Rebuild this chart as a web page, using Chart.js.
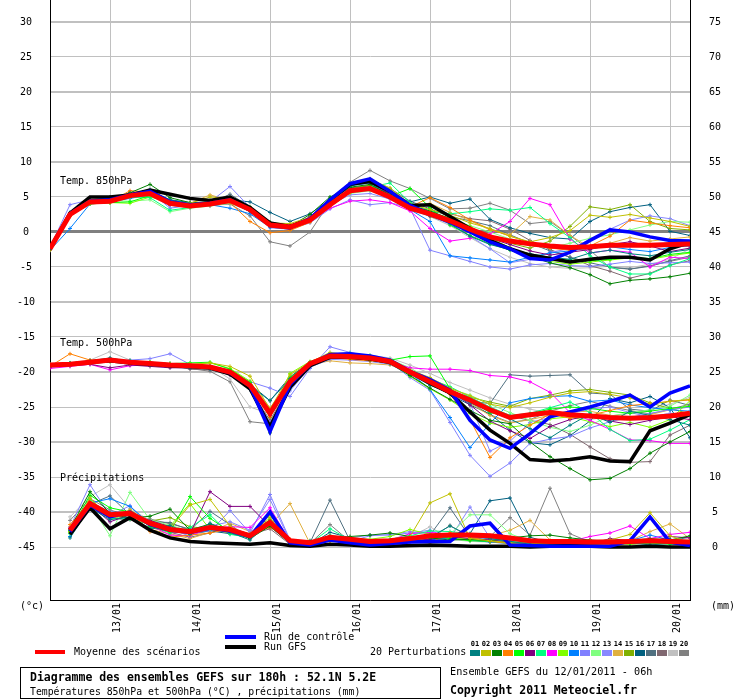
<!DOCTYPE html>
<html lang="fr">
  <head>
    <meta charset="UTF-8" />
    <title>Diagramme des ensembles GEFS</title>
    <script src="https://cdn.jsdelivr.net/npm/chart.js"></script>
    <style>
      body { margin: 0; background: #fff; }
      #wrap { width: 740px; height: 700px; }
    </style>
  </head>
  <body>
    <div id="wrap"><canvas id="gefs" width="740" height="700"></canvas></div>

    <script>
      // run du 12/01/2011 06h, pas de 6h (33 échéances)
      const dayLabels = ['13/01', '14/01', '15/01', '16/01', '17/01', '18/01', '19/01', '20/01'];
      const dayIndex = [3, 7, 11, 15, 19, 23, 27, 31];
      const leftTicks = [-45, -40, -35, -30, -25, -20, -15, -10, -5, 0, 5, 10, 15, 20, 25, 30];
      const rightTicks = [0, 5, 10, 15, 20, 25, 30, 35, 40, 45, 50, 55, 60, 65, 70, 75];

      const memberNames = ['01','02','03','04','05','06','07','08','09','10','11','12','13','14','15','16','17','18','19','20'];
      const memberColors = ['#008080','#c0c000','#008000','#ff8000','#00ff00','#800080','#00ff80','#ff00ff','#80ff00','#0080ff',
                            '#8080ff','#80ff80','#8888ff','#e0b040','#80b000','#006080','#507080','#806870','#c0c0c0','#808080'];

      // Température 850hPa (°C)
      const t850Mean = [-2.4, 2.5, 4.3, 4.4, 5.2, 5.5, 4.1, 3.7, 4.0, 4.5, 3.2, 1.0, 0.7, 1.7, 3.9, 5.9, 6.2, 5.0, 3.4, 2.6, 1.6, 0.4, -0.7, -1.3, -1.7, -2.0, -2.2, -2.1, -1.9, -1.9, -1.9, -1.8, -1.7];
      const t850Ctrl = [-2.4, 2.6, 4.4, 4.6, 5.3, 5.8, 4.3, 3.9, 4.1, 4.6, 3.1, 1.0, 0.6, 1.9, 4.6, 6.9, 7.6, 5.8, 3.8, 2.6, 1.4, 0.0, -1.4, -2.4, -3.8, -4.0, -2.9, -1.2, 0.3, 0.0, -0.7, -1.2, -1.3];
      const t850Gfs = [-2.4, 2.7, 5.0, 5.0, 5.3, 6.0, 5.4, 4.8, 4.5, 5.0, 3.5, 1.3, 0.8, 1.8, 4.5, 6.8, 7.2, 5.8, 3.8, 3.9, 2.2, 0.5, -1.2, -2.4, -3.3, -3.8, -4.3, -3.9, -3.6, -3.6, -4.0, -2.4, -1.5];
      const t850Members = [
        [-2.3, 2.8, 4.6, 4.9, 5.4, 5.9, 4.6, 4.0, 4.2, 4.8, 3.0, 0.8, 0.5, 1.9, 4.4, 6.6, 7.3, 5.6, 3.6, 2.4, 1.2, -0.6, -1.8, -2.5, -3.1, -3.6, -3.9, -3.0, -2.6, -3.1, -3.4, -2.9, -2.5],
        [-2.2, 2.4, 4.2, 4.5, 5.0, 5.3, 4.3, 4.1, 5.0, 4.8, 3.6, 1.3, 1.2, 2.1, 4.2, 6.9, 7.5, 6.3, 4.0, 3.2, 2.4, 1.3, 0.5, -0.6, -1.4, -0.8, 0.2, 2.4, 2.1, 2.5, 2.0, 1.5, 0.8],
        [-2.4, 2.6, 4.5, 4.6, 5.6, 6.8, 4.9, 4.2, 4.1, 4.6, 3.4, 1.4, 0.8, 2.5, 5.0, 6.4, 6.8, 5.3, 3.8, 3.0, 1.9, 0.3, -1.2, -2.4, -3.5, -4.4, -5.1, -6.1, -7.4, -6.9, -6.7, -6.4, -5.9],
        [-2.6, 2.2, 4.4, 4.3, 5.9, 5.7, 4.0, 3.6, 3.9, 4.2, 1.5, -0.1, 0.2, 1.4, 3.7, 5.6, 6.5, 5.3, 3.6, 4.9, 3.5, 1.7, 0.4, -0.6, -1.5, -2.3, -2.6, -2.0, -0.6, 1.7, 1.3, 0.9, 0.6],
        [-2.5, 2.3, 4.1, 4.2, 4.3, 5.2, 4.4, 4.1, 4.3, 4.5, 3.3, 1.1, 0.9, 1.6, 3.8, 5.8, 6.3, 5.1, 6.2, 3.5, 1.0, -0.5, -1.7, -2.6, -3.3, -3.8, -4.0, -4.1, -3.9, -3.6, -3.8, -3.2, -2.9],
        [-2.3, 2.7, 4.3, 4.6, 5.4, 5.6, 4.2, 3.8, 4.0, 4.4, 3.1, 0.9, 0.6, 2.2, 4.4, 6.8, 7.1, 5.4, 3.3, 2.3, 1.4, 0.6, -0.9, -1.8, -2.7, -3.3, -2.9, -2.5, -1.8, -1.4, -2.0, -2.8, -2.3],
        [-2.4, 2.6, 4.2, 4.4, 5.0, 4.9, 3.1, 3.5, 3.9, 4.3, 3.0, 0.9, 0.6, 1.8, 4.0, 5.9, 6.4, 7.0, 4.2, 3.0, 2.6, 2.9, 3.3, 3.1, 3.5, 1.2, -0.8, -3.4, -5.0, -6.0, -6.0, -4.8, -3.8],
        [-2.4, 2.5, 4.3, 4.5, 5.6, 5.4, 3.9, 3.6, 3.8, 4.4, 3.1, 1.0, 0.8, 1.6, 3.4, 4.4, 4.6, 4.2, 3.0, 0.5, -1.3, -0.9, -0.3, 1.5, 4.8, 3.9, -1.0, -3.0, -2.6, -2.9, -5.0, -3.6, -3.8],
        [-2.5, 2.4, 4.0, 4.2, 4.1, 5.0, 4.3, 3.9, 4.1, 4.6, 3.4, 1.2, 0.7, 1.5, 3.6, 5.7, 6.1, 5.0, 3.6, 2.8, 2.0, 0.8, -0.9, -2.2, -3.5, -4.2, -4.6, -4.3, -4.0, -3.7, -3.9, -3.4, -3.0],
        [-2.6, 0.5, 4.0, 4.3, 4.8, 5.3, 4.0, 3.6, 3.9, 3.4, 2.6, 0.7, 0.4, 1.9, 4.8, 6.6, 7.0, 5.2, 3.2, 1.5, -3.4, -3.7, -4.0, -4.3, -3.6, -3.0, -2.7, -2.3, -2.1, -2.5, -2.8, -2.2, -2.0],
        [-2.2, 3.9, 4.6, 4.8, 5.5, 5.8, 3.4, 3.8, 4.3, 6.5, 3.5, 0.6, 0.4, 1.3, 3.3, 4.6, 3.9, 4.2, 3.4, -2.6, -3.4, -4.2, -5.0, -5.3, -4.7, -4.5, -4.8, -4.9, -4.6, -4.2, -4.5, -4.4, -4.3],
        [-2.3, 2.7, 4.4, 4.5, 4.4, 4.6, 2.9, 3.4, 3.7, 4.1, 3.0, 1.2, 0.9, 1.8, 4.1, 5.5, 5.9, 4.9, 3.5, 2.7, 1.8, 0.9, 0.0, -1.0, -1.9, -2.3, -1.6, -0.9, -0.4, 0.3, 1.0, 1.5, 1.4],
        [-2.4, 2.5, 4.1, 4.4, 5.1, 5.7, 4.5, 4.0, 4.2, 4.7, 3.2, 0.9, 0.5, 1.7, 3.9, 5.3, 5.5, 4.7, 3.2, 2.3, 1.1, -0.6, -2.4, -4.4, -3.9, -2.9, -2.4, -1.1, 0.4, 1.7, 2.3, 1.9, 0.9],
        [-2.5, 2.6, 4.4, 4.5, 5.3, 5.5, 4.3, 4.1, 5.3, 4.5, 3.4, 1.0, 0.7, 1.6, 3.9, 6.0, 6.4, 5.2, 3.4, 4.1, 2.8, 1.6, 0.3, -0.4, 2.2, 1.7, -0.5, -2.2, -1.6, -0.8, -1.3, -1.0, -0.7],
        [-2.3, 2.5, 4.2, 4.3, 5.2, 5.6, 4.1, 3.8, 4.0, 4.4, 3.2, 1.1, 0.6, 1.7, 4.2, 6.2, 6.7, 5.2, 3.5, 2.2, 1.3, 0.2, -0.8, -1.6, -2.3, -1.3, 0.8, 3.6, 3.2, 3.9, 1.5, 0.5, 0.3],
        [-2.4, 2.6, 4.3, 5.0, 5.3, 5.8, 4.6, 4.2, 4.3, 4.6, 4.3, 2.8, 1.5, 2.6, 4.6, 6.3, 6.6, 5.5, 4.3, 5.0, 4.1, 4.7, 1.8, 0.6, -0.2, -0.8, -1.0, 1.5, 2.9, 3.5, 3.9, 0.1, -0.5],
        [-2.5, 2.4, 4.2, 4.4, 5.3, 6.1, 4.5, 3.9, 4.1, 5.4, 3.6, 1.3, 0.9, 2.0, 4.3, 6.5, 7.6, 6.2, 4.4, 3.3, 2.2, 1.6, 0.9, -0.4, -1.6, -2.7, -3.6, -4.4, -5.0, -5.3, -4.9, -4.1, -3.4],
        [-2.4, 2.3, 4.0, 4.2, 5.0, 5.2, 3.8, 3.5, 3.8, 4.3, 2.9, 0.8, 0.4, 1.5, 3.6, 5.6, 6.0, 5.1, 3.7, 2.9, 2.6, 1.9, 1.6, 0.4, -1.2, -2.5, -3.6, -4.8, -5.6, -6.6, -5.9, -4.7, -4.1],
        [-2.5, 2.4, 4.3, 4.4, 5.2, 5.6, 4.2, 3.9, 4.0, 4.5, 3.3, 1.0, 0.6, 1.6, 3.8, 5.7, 6.0, 4.8, 3.2, 2.2, 0.9, -0.8, -2.4, -3.6, -4.5, -5.0, -5.2, -5.1, -4.9, -5.1, -4.6, -3.9, -2.4],
        [-2.6, 2.3, 4.1, 4.3, 5.0, 5.3, 3.9, 3.6, 3.8, 4.0, 2.3, -1.4, -2.0, 0.0, 4.3, 7.1, 8.8, 7.3, 6.2, 4.8, 3.3, 3.4, 4.1, 3.1, 1.2, 1.5, -0.5, -2.6, -5.1, -5.3, -4.8, -4.2, -3.6]
      ];

      // Température 500hPa (°C)
      const t500Mean = [-19.0, -18.9, -18.6, -18.3, -18.6, -18.8, -19.0, -19.1, -19.3, -20.0, -21.9, -25.9, -21.4, -18.8, -17.7, -17.8, -18.0, -18.5, -20.0, -21.4, -22.8, -24.0, -25.4, -26.5, -26.1, -25.8, -26.1, -26.3, -26.5, -26.6, -26.5, -26.3, -25.9];
      const t500Ctrl = [-19.0, -18.9, -18.6, -18.3, -18.6, -18.8, -19.0, -19.1, -19.3, -20.1, -22.0, -28.5, -21.8, -18.9, -17.5, -17.4, -17.7, -18.3, -19.9, -21.1, -22.6, -26.9, -29.7, -30.9, -28.8, -26.4, -25.7, -25.0, -24.2, -23.3, -25.0, -23.0, -22.0];
      const t500Gfs = [-19.0, -18.9, -18.6, -18.4, -18.7, -18.9, -19.1, -19.2, -19.4, -20.3, -22.4, -27.8, -22.2, -19.1, -17.9, -17.9, -18.1, -18.6, -20.0, -21.6, -23.0, -25.7, -28.3, -30.2, -32.5, -32.7, -32.5, -32.1, -32.7, -32.8, -28.4, -27.3, -26.1];
      const t500Members = [
        [-19.1, -18.8, -18.4, -18.0, -18.5, -18.9, -19.2, -19.4, -19.6, -20.3, -22.0, -24.1, -21.0, -18.7, -17.9, -17.5, -17.8, -18.6, -20.2, -21.9, -23.0, -24.4, -25.6, -26.7, -28.1, -29.4, -27.6, -26.0, -27.2, -25.6, -26.2, -26.8, -27.6],
        [-19.0, -19.0, -18.7, -18.4, -18.8, -18.6, -18.8, -18.9, -18.7, -19.2, -20.6, -25.3, -20.4, -18.6, -17.2, -17.6, -18.1, -18.6, -19.7, -20.8, -22.3, -23.4, -24.6, -25.1, -24.4, -23.6, -23.0, -22.8, -23.2, -23.7, -24.6, -24.2, -23.9],
        [-18.9, -18.8, -18.5, -18.2, -18.7, -19.0, -19.1, -19.2, -19.4, -20.1, -22.2, -28.7, -22.0, -19.0, -17.8, -18.0, -18.3, -18.8, -20.5, -22.3, -23.9, -25.5, -26.9, -27.4, -30.0, -32.1, -33.8, -35.4, -35.2, -33.8, -31.6, -30.0, -28.5],
        [-19.2, -17.4, -18.3, -18.2, -18.6, -18.9, -19.0, -19.0, -19.3, -20.2, -22.0, -26.4, -21.6, -18.9, -17.9, -18.2, -18.4, -18.7, -20.3, -21.6, -23.2, -26.8, -32.2, -29.4, -27.6, -26.0, -26.6, -26.2, -25.5, -24.8, -24.5, -24.2, -24.0],
        [-19.0, -18.9, -18.6, -18.4, -18.4, -18.6, -18.8, -18.7, -18.6, -19.6, -21.5, -25.7, -20.8, -18.7, -17.6, -17.9, -18.0, -18.3, -17.8, -17.7, -22.4, -24.1, -25.8, -26.4, -26.0, -25.3, -25.0, -25.2, -25.6, -25.9, -25.6, -25.2, -24.9],
        [-19.3, -19.1, -18.9, -19.4, -19.0, -19.2, -19.4, -19.4, -19.5, -20.4, -22.1, -26.2, -21.6, -19.1, -17.7, -17.6, -17.9, -18.6, -20.2, -21.3, -22.6, -24.7, -27.0, -28.4, -29.5, -27.8, -26.8, -26.2, -27.0, -27.5, -26.9, -26.4, -26.8],
        [-18.9, -18.7, -18.5, -18.3, -18.5, -18.7, -18.9, -19.0, -19.1, -19.8, -21.5, -25.4, -21.2, -18.6, -17.4, -17.3, -17.7, -18.4, -19.9, -21.0, -22.1, -23.6, -25.0, -26.2, -25.9, -25.1, -24.3, -25.8, -28.2, -29.8, -29.6, -28.3, -26.8],
        [-19.5, -19.2, -18.9, -19.7, -19.1, -19.0, -19.0, -19.2, -19.4, -20.0, -21.8, -25.8, -21.3, -18.8, -17.6, -17.6, -18.1, -18.6, -19.4, -19.6, -19.6, -19.8, -20.5, -20.7, -21.4, -22.9, -25.8, -26.9, -28.2, -29.7, -29.8, -30.2, -30.2],
        [-19.0, -18.8, -18.6, -18.5, -18.7, -18.9, -19.1, -19.0, -18.7, -19.5, -21.3, -26.2, -20.2, -18.5, -17.5, -17.6, -17.9, -18.4, -20.6, -22.4, -24.0, -25.9, -27.3, -27.9, -27.5, -26.7, -26.4, -27.1, -27.8, -27.2, -27.9, -26.8, -24.1],
        [-19.1, -18.9, -18.7, -18.3, -18.6, -18.7, -18.8, -19.0, -19.2, -20.2, -22.5, -28.3, -22.4, -19.2, -17.6, -17.5, -17.8, -18.3, -20.1, -22.5, -26.5, -30.8, -27.3, -24.4, -23.8, -23.5, -23.4, -24.2, -24.0, -24.7, -25.1, -25.4, -25.6],
        [-18.9, -18.8, -18.5, -18.4, -18.3, -18.1, -17.4, -18.9, -19.2, -19.9, -21.4, -22.3, -23.5, -19.5, -16.4, -17.2, -17.8, -18.6, -20.8, -22.6, -27.2, -31.9, -34.9, -33.0, -30.2, -29.6, -29.2, -28.0, -27.1, -26.5, -25.9, -25.4, -25.0],
        [-19.0, -18.8, -18.6, -18.3, -18.6, -18.8, -19.0, -19.1, -19.3, -19.8, -21.7, -25.6, -21.1, -18.7, -17.7, -17.6, -17.6, -18.2, -19.4, -21.1, -22.4, -23.3, -24.6, -25.8, -26.9, -27.9, -28.5, -27.6, -26.3, -25.8, -25.4, -24.9, -23.3],
        [-19.1, -19.0, -18.7, -18.2, -18.7, -18.9, -19.1, -19.2, -19.4, -20.1, -22.3, -27.2, -22.7, -19.3, -18.2, -18.3, -18.5, -18.9, -20.4, -21.8, -23.1, -24.5, -31.3, -29.9, -27.2, -26.5, -25.9, -25.3, -25.0, -25.8, -26.4, -25.9, -26.3],
        [-18.9, -18.8, -18.5, -18.2, -18.5, -18.7, -18.9, -19.0, -19.2, -19.7, -21.4, -25.1, -21.5, -19.0, -18.4, -18.7, -18.8, -19.0, -20.0, -21.3, -22.6, -24.5, -26.2, -27.3, -26.8, -26.2, -25.7, -25.6, -26.2, -26.6, -26.1, -25.4, -24.9],
        [-19.0, -18.9, -18.6, -18.4, -18.7, -18.9, -19.1, -19.1, -19.3, -20.0, -22.0, -26.5, -21.4, -18.9, -17.8, -17.9, -18.2, -18.7, -20.0, -21.5, -22.7, -23.6, -24.3, -24.9, -23.8, -23.3, -22.7, -22.5, -22.9, -23.3, -24.4, -25.2, -26.0],
        [-19.0, -18.9, -18.6, -18.3, -18.6, -18.9, -19.1, -19.2, -19.3, -19.9, -21.7, -24.1, -20.7, -18.6, -17.6, -17.7, -18.0, -18.5, -20.2, -21.6, -23.2, -24.7, -26.0, -28.3, -30.1, -30.4, -29.1, -27.0, -23.8, -24.4, -23.5, -25.1, -29.4],
        [-19.1, -18.8, -18.4, -18.1, -18.6, -18.9, -19.0, -19.1, -19.2, -20.0, -21.8, -25.5, -21.2, -18.7, -17.6, -17.7, -18.1, -18.5, -19.8, -21.2, -22.9, -24.2, -24.5, -20.4, -20.6, -20.5, -20.4, -23.0, -23.2, -25.3, -25.6, -24.0, -24.8],
        [-19.0, -18.8, -18.5, -18.3, -18.6, -18.8, -19.0, -19.6, -19.7, -20.4, -22.5, -26.9, -22.0, -19.1, -17.9, -17.9, -18.2, -18.7, -20.1, -21.4, -22.7, -24.3, -25.4, -26.3, -26.9, -27.5, -28.9, -30.7, -32.4, -32.9, -32.8, -29.0, -27.6],
        [-19.0, -18.7, -18.3, -17.1, -18.3, -18.7, -18.9, -19.0, -19.2, -21.0, -25.0, -26.0, -21.0, -18.6, -17.5, -17.4, -17.6, -18.0, -19.0, -20.2, -21.5, -22.6, -23.7, -24.6, -25.3, -25.9, -26.4, -26.8, -26.3, -25.9, -25.4, -24.6, -23.6],
        [-19.0, -18.9, -18.7, -18.5, -18.8, -19.0, -19.3, -19.5, -19.9, -21.4, -27.1, -27.4, -21.7, -19.3, -18.1, -18.1, -18.3, -18.6, -19.9, -21.3, -22.7, -24.3, -26.1, -27.2, -26.8, -25.6, -24.8, -24.2, -24.9, -25.5, -26.0, -25.3, -24.6]
      ];

      // Précipitations (mm), pas de valeur à l'échéance 0
      const precMean = [null, 2.4, 6.2, 4.6, 4.8, 3.4, 2.5, 2.2, 2.8, 2.5, 1.6, 3.5, 0.9, 0.6, 1.4, 1.1, 0.8, 0.9, 1.2, 1.6, 1.7, 1.7, 1.6, 1.3, 0.9, 0.8, 0.8, 0.7, 0.7, 0.8, 0.9, 0.8, 0.7];
      const precCtrl = [null, 2.2, 6.0, 4.3, 5.0, 3.2, 2.4, 2.1, 2.7, 2.3, 1.5, 5.0, 0.6, 0.3, 1.0, 0.6, 0.3, 0.5, 0.7, 0.8, 0.8, 3.0, 3.4, 0.3, 0.2, 0.1, 0.1, 0.1, 0.1, 0.9, 4.3, 0.7, 0.2];
      const precGfs = [null, 1.8, 5.6, 2.6, 4.2, 2.4, 1.3, 0.8, 0.6, 0.5, 0.4, 0.6, 0.2, 0.1, 0.4, 0.3, 0.1, 0.1, 0.2, 0.3, 0.2, 0.1, 0.1, 0.1, 0.0, 0.1, 0.2, 0.1, 0.0, 0.0, 0.1, 0.0, 0.0];
      const precMembers = [
        [null, 1.3, 5.6, 3.9, 4.3, 2.6, 3.1, 1.8, 3.4, 2.1, 1.0, 3.6, 0.4, 0.3, 1.6, 0.6, 0.3, 0.5, 0.9, 1.4, 3.0, 1.6, 1.2, 0.8, 0.4, 0.3, 0.5, 0.4, 0.2, 0.6, 0.3, 0.5, 0.2],
        [null, 2.1, 7.0, 4.2, 5.3, 3.5, 2.6, 6.0, 6.8, 3.0, 1.5, 4.2, 0.7, 0.4, 1.0, 0.7, 0.5, 0.8, 1.5, 6.3, 7.6, 1.2, 0.9, 0.6, 0.5, 0.7, 0.6, 0.9, 1.0, 1.8, 4.9, 1.6, 0.6],
        [null, 2.6, 7.9, 4.8, 4.1, 4.4, 5.4, 2.4, 3.3, 2.4, 1.2, 3.0, 0.5, 0.9, 1.1, 1.5, 1.7, 2.0, 1.5, 1.3, 1.0, 1.1, 0.9, 1.3, 1.6, 1.7, 1.3, 1.0, 0.8, 0.9, 1.2, 1.0, 1.6],
        [null, 3.2, 6.5, 4.9, 5.0, 2.2, 1.4, 1.7, 2.0, 2.6, 1.9, 2.8, 1.1, 0.5, 0.8, 1.0, 0.4, 0.7, 1.0, 0.6, 2.0, 1.4, 0.8, 0.5, 0.3, 0.4, 0.6, 0.5, 0.4, 0.7, 1.0, 0.8, 0.5],
        [null, 2.3, 7.4, 5.6, 5.0, 2.9, 2.2, 7.2, 4.1, 2.2, 1.8, 3.9, 0.8, 0.6, 1.2, 0.9, 0.6, 0.7, 1.4, 1.7, 1.2, 0.9, 0.8, 0.6, 0.5, 0.4, 0.6, 0.6, 0.7, 0.5, 0.6, 0.4, 0.5],
        [null, 2.4, 6.0, 3.6, 4.6, 3.8, 2.9, 1.9, 7.9, 5.8, 5.8, 2.9, 0.6, 0.4, 1.3, 0.8, 0.5, 0.6, 0.9, 1.1, 1.5, 1.2, 1.0, 0.7, 0.5, 0.6, 0.5, 0.4, 1.2, 0.9, 0.7, 1.5, 1.3],
        [null, 1.9, 6.8, 4.1, 4.0, 3.2, 2.0, 2.8, 4.6, 1.8, 1.4, 3.3, 0.6, 0.5, 2.6, 1.0, 0.9, 1.1, 1.6, 2.3, 2.2, 1.9, 1.3, 0.8, 0.6, 0.5, 0.4, 0.3, 0.6, 0.7, 0.5, 0.8, 0.6],
        [null, 2.7, 5.9, 4.4, 5.2, 3.1, 1.7, 1.6, 2.7, 2.9, 2.8, 5.6, 0.8, 0.3, 1.2, 1.0, 0.7, 1.0, 1.9, 2.1, 1.8, 1.5, 1.3, 1.0, 0.7, 0.6, 0.8, 1.5, 2.0, 3.0, 1.2, 1.8, 2.1],
        [null, 2.2, 6.6, 4.7, 4.4, 3.6, 3.0, 6.2, 2.5, 2.3, 1.3, 4.6, 0.5, 0.4, 1.5, 1.3, 1.1, 1.5, 2.5, 1.8, 1.4, 1.1, 0.9, 0.5, 0.4, 0.5, 0.7, 0.9, 0.6, 0.4, 0.6, 0.5, 0.3],
        [null, 1.5, 6.3, 6.9, 5.8, 3.3, 2.3, 2.0, 2.4, 2.6, 1.7, 4.9, 0.7, 0.5, 1.3, 0.9, 0.5, 0.6, 0.8, 1.0, 1.3, 1.0, 0.7, 0.5, 0.4, 0.3, 0.5, 0.6, 0.8, 0.9, 1.7, 1.0, 0.8],
        [null, 2.8, 8.9, 4.5, 5.9, 3.0, 2.4, 2.6, 2.2, 5.2, 2.0, 7.5, 1.0, 0.8, 1.2, 1.3, 1.7, 1.7, 2.0, 2.4, 1.2, 1.6, 1.1, 0.7, 0.5, 0.6, 0.4, 0.5, 0.6, 0.8, 0.5, 0.7, 0.5],
        [null, 2.0, 6.1, 1.6, 7.8, 3.9, 3.1, 2.3, 2.9, 2.7, 1.4, 3.2, 0.6, 0.4, 1.7, 1.2, 0.8, 1.0, 1.3, 1.5, 1.8, 4.6, 4.6, 1.9, 0.8, 0.6, 0.5, 0.7, 0.5, 0.6, 0.9, 0.7, 0.6],
        [null, 2.5, 6.4, 5.1, 4.5, 3.4, 2.7, 1.5, 3.0, 3.6, 2.4, 6.8, 0.9, 0.7, 1.0, 0.8, 1.6, 1.8, 2.2, 1.9, 1.2, 5.7, 1.3, 0.9, 0.8, 0.6, 0.7, 0.5, 0.8, 0.6, 0.9, 0.6, 0.4],
        [null, 2.9, 6.2, 4.0, 4.7, 2.5, 1.9, 1.2, 2.1, 3.4, 2.2, 3.1, 6.2, 0.5, 1.1, 0.7, 0.4, 0.6, 0.9, 1.2, 1.3, 1.0, 1.6, 2.4, 3.8, 1.0, 0.7, 0.6, 0.8, 0.9, 2.2, 3.3, 1.2],
        [null, 2.2, 5.8, 4.3, 4.2, 3.7, 4.2, 2.9, 2.6, 2.0, 1.5, 3.0, 0.6, 0.4, 1.5, 0.9, 0.6, 0.8, 1.1, 1.2, 1.4, 1.0, 0.8, 0.6, 0.5, 0.6, 0.7, 0.8, 1.0, 0.8, 0.6, 0.5, 0.4],
        [null, 2.5, 5.5, 5.0, 4.9, 3.0, 2.6, 1.9, 2.3, 1.9, 1.3, 3.4, 0.5, 0.3, 2.1, 1.3, 0.7, 0.8, 1.0, 1.2, 1.4, 1.9, 6.6, 7.0, 1.4, 0.6, 0.5, 0.6, 0.4, 0.5, 0.7, 1.1, 0.9],
        [null, 2.3, 6.1, 7.3, 4.6, 3.6, 3.5, 2.4, 5.1, 3.2, 1.2, 4.0, 0.8, 0.6, 6.7, 0.9, 0.6, 0.7, 1.2, 1.7, 5.6, 1.4, 1.0, 0.7, 0.5, 0.6, 0.4, 0.6, 0.5, 0.7, 0.8, 0.9, 1.4],
        [null, 2.0, 5.7, 4.1, 3.9, 2.8, 2.1, 1.4, 2.0, 2.8, 1.8, 2.6, 0.4, 0.2, 1.0, 0.6, 0.3, 0.5, 0.8, 1.0, 1.3, 1.1, 0.9, 0.6, 0.4, 0.3, 0.3, 0.4, 0.5, 0.4, 0.6, 0.5, 0.3],
        [null, 4.3, 7.2, 8.9, 5.5, 3.8, 2.3, 1.7, 2.3, 2.1, 1.4, 3.9, 0.5, 0.3, 0.9, 0.8, 0.7, 0.9, 1.4, 2.9, 1.1, 0.8, 0.7, 0.5, 0.4, 0.3, 0.5, 0.4, 0.3, 0.5, 0.4, 0.3, 0.4],
        [null, 3.8, 6.9, 5.3, 4.4, 4.0, 3.3, 2.6, 3.1, 2.4, 1.6, 3.6, 0.7, 0.5, 3.2, 0.8, 0.5, 0.7, 1.0, 1.1, 3.1, 1.3, 1.5, 4.2, 1.7, 8.4, 1.9, 0.7, 0.6, 0.4, 0.5, 0.6, 0.4]
      ];

      const MONO = '"DejaVu Sans Mono", monospace';

      function pts(arr) {
        return arr.map((v, i) => ({ x: i, y: v }));
      }

      function mainSet(label, data, color, width, axis, order) {
        return {
          label, data: pts(data), yAxisID: axis, order,
          borderColor: color, backgroundColor: color, borderWidth: width,
          pointRadius: 0, fill: false, tension: 0
        };
      }

      const datasets = [];
      [[t850Mean, t850Ctrl, t850Gfs, t850Members, 'y'],
       [t500Mean, t500Ctrl, t500Gfs, t500Members, 'y'],
       [precMean, precCtrl, precGfs, precMembers, 'y1']].forEach(([mean, ctrl, gfs, members, axis]) => {
        datasets.push(mainSet('Moyenne', mean, '#ff0000', 5, axis, 0));
        datasets.push(mainSet('Contrôle', ctrl, '#0000ff', 3.5, axis, 1));
        datasets.push(mainSet('GFS', gfs, '#000000', 3.5, axis, 2));
        members.forEach((m, k) => {
          datasets.push({
            label: 'P' + memberNames[k], data: pts(m), yAxisID: axis, order: 3,
            borderColor: memberColors[k], backgroundColor: memberColors[k], borderWidth: 1,
            pointStyle: 'cross', pointRadius: 2, pointBorderWidth: 1, fill: false, tension: 0
          });
        });
      });

      const decor = {
        id: 'decor',
        afterDraw(chart) {
          const c = chart.ctx;
          c.save();
          c.fillStyle = '#000';
          c.textBaseline = 'middle';
          c.textAlign = 'left';
          c.font = '10px ' + MONO;
          c.fillText('Temp. 850hPa', 60, 181);
          c.fillText('Temp. 500hPa', 60, 343);
          c.fillText('Précipitations', 60, 478);
          c.fillText('(°c)', 20, 606);
          c.fillText('(mm)', 711, 606);

          // légende
          c.fillStyle = '#ff0000'; c.fillRect(35, 650, 30, 4);
          c.fillStyle = '#0000ff'; c.fillRect(225, 635, 31, 4);
          c.fillStyle = '#000000'; c.fillRect(225, 645, 31, 4);
          c.fillText('Moyenne des scénarios', 74, 652);
          c.fillText('Run de contrôle', 264, 637);
          c.fillText('Run GFS', 264, 647);
          c.fillText('20 Perturbations', 370, 652);
          c.textAlign = 'center';
          memberColors.forEach((col, k) => {
            c.fillStyle = col;
            c.fillRect(470 + k * 11, 650, 10, 6);
            c.fillStyle = '#000';
            c.font = 'bold 7px ' + MONO;
            c.fillText(memberNames[k], 475 + k * 11, 644);
          });

          // cartouche
          c.textAlign = 'left';
          c.strokeStyle = '#000';
          c.lineWidth = 1;
          c.strokeRect(20.5, 667.5, 420, 31);
          c.font = 'bold 11.5px ' + MONO;
          c.fillText('Diagramme des ensembles GEFS sur 180h : 52.1N 5.2E', 30, 678);
          c.font = '9.8px ' + MONO;
          c.fillText('Températures 850hPa et 500hPa (°C) , précipitations (mm)', 30, 692);
          c.font = '10.2px ' + MONO;
          c.fillText('Ensemble GEFS du 12/01/2011 - 06h', 450, 672);
          c.font = 'bold 11.5px ' + MONO;
          c.fillText('Copyright 2011 Meteociel.fr', 450, 691);
          c.restore();
        }
      };

      function noPad(s) {
        s.paddingTop = 0; s.paddingBottom = 0; s.paddingLeft = 0; s.paddingRight = 0;
      }

      new Chart(document.getElementById('gefs'), {
        type: 'line',
        data: { datasets },
        options: {
          responsive: false,
          animation: false,
          devicePixelRatio: 1,
          layout: { padding: 0, autoPadding: false },
          plugins: { legend: { display: false }, tooltip: { enabled: false } },
          scales: {
            x: {
              type: 'linear', min: 0, max: 32,
              afterBuildTicks: s => { s.ticks = dayIndex.map(v => ({ value: v })); },
              afterFit: s => { s.height = 100; noPad(s); },
              grid: { color: '#c0c0c0', lineWidth: 1, drawTicks: false },
              border: { color: '#000', width: 1 },
              ticks: {
                autoSkip: false, minRotation: 90, maxRotation: 90, padding: 3, labelOffset: 7,
                color: '#000', font: { family: MONO, size: 10 },
                callback: v => dayLabels[dayIndex.indexOf(v)]
              }
            },
            y: {
              position: 'left', min: -52.57, max: 33.14,
              afterBuildTicks: s => { s.ticks = leftTicks.map(v => ({ value: v })); },
              afterFit: s => { s.width = 50; noPad(s); },
              grid: {
                drawTicks: false,
                color: ctx => ctx.tick && ctx.tick.value === 0 ? '#808080' : '#c0c0c0',
                lineWidth: ctx => !ctx.tick ? 1 : ctx.tick.value === 0 ? 3 : (ctx.tick.value % 10 === 0 ? 2 : 1)
              },
              border: { color: '#000', width: 1 },
              ticks: { crossAlign: 'center', padding: 15, color: '#000', font: { family: MONO, size: 10 } }
            },
            y1: {
              position: 'right', min: -7.57, max: 78.14,
              afterBuildTicks: s => { s.ticks = rightTicks.map(v => ({ value: v })); },
              afterFit: s => { s.width = 50; noPad(s); },
              grid: { display: false, drawTicks: false },
              border: { color: '#000', width: 1 },
              ticks: { crossAlign: 'center', padding: 19, color: '#000', font: { family: MONO, size: 10 } }
            }
          }
        },
        plugins: [decor]
      });
    </script>
  </body>
</html>
